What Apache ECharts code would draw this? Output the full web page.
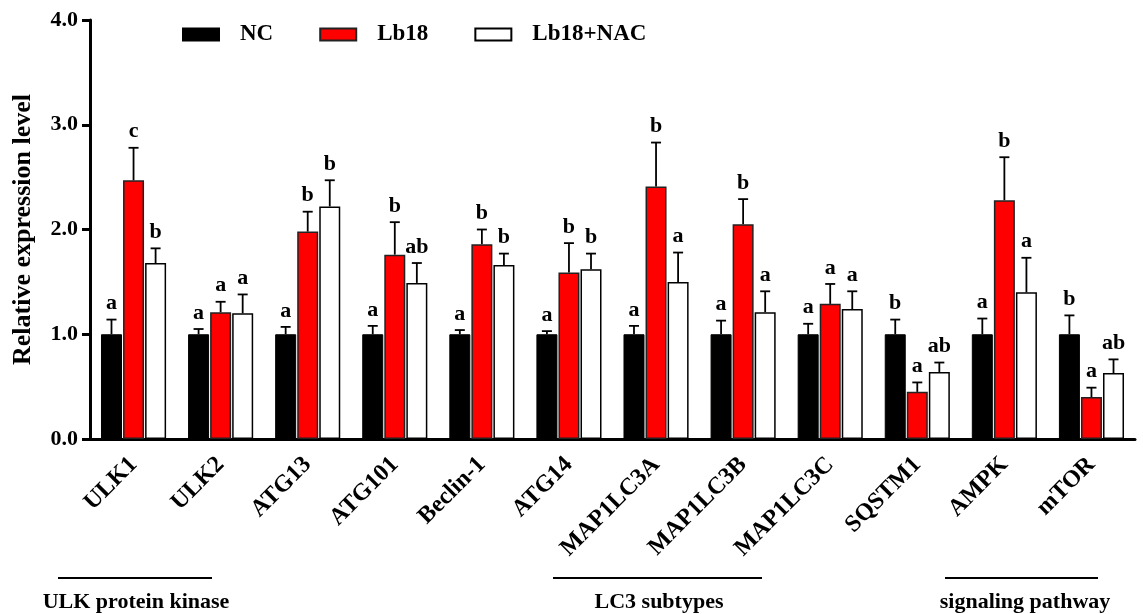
<!DOCTYPE html>
<html>
<head>
<meta charset="utf-8">
<script src="https://cdn.jsdelivr.net/npm/echarts@6/dist/echarts.min.js"></script>
<style>
html,body{margin:0;padding:0;background:#fff;}
#chart{width:1143px;height:614px;}
</style>
</head>
<body>
<div id="chart"></div>
<script>
const categories = ['ULK1','ULK2','ATG13','ATG101','Beclin-1','ATG14','MAP1LC3A','MAP1LC3B','MAP1LC3C','SQSTM1','AMPK','mTOR'];
const ncValues   = [1.00,1.00,1.00,1.00,1.00,1.00,1.00,1.00,1.00,1.00,1.00,1.00];
const ncErr      = [0.14,0.05,0.07,0.08,0.04,0.03,0.08,0.13,0.10,0.14,0.15,0.18];
const ncLetters  = ['a','a','a','a','a','a','a','a','a','b','a','b'];
const lb18Values = [2.47,1.21,1.98,1.76,1.86,1.59,2.41,2.05,1.29,0.45,2.28,0.40];
const lb18Err    = [0.31,0.10,0.19,0.31,0.14,0.28,0.42,0.24,0.19,0.09,0.41,0.09];
const lb18Letters= ['c','a','b','b','b','b','b','b','a','a','b','a'];
const nacValues  = [1.68,1.20,2.22,1.49,1.66,1.62,1.50,1.21,1.24,0.64,1.40,0.63];
const nacErr     = [0.14,0.18,0.25,0.19,0.11,0.15,0.28,0.20,0.17,0.09,0.33,0.13];
const nacLetters = ['b','a','b','ab','b','b','a','a','a','ab','a','ab'];
const seriesNames = ['NC','Lb18','Lb18+NAC'];
const yTicks = [0,1,2,3,4];
const groupLabels = ['ULK protein kinase','LC3 subtypes','signaling pathway'];

const FONT = '"Liberation Serif", "Times New Roman", serif';
const BAR_W = 21;
const GAP = 1.05;
const offsets = [-(BAR_W + GAP), 0, (BAR_W + GAP)];

function errSeries(name, vals, errs, letters, offset) {
  return {
    type: 'custom',
    name: name,
    data: vals.map((v, i) => [i, v, errs[i]]),
    encode: { x: 0, y: 1 },
    z: 10,
    silent: true,
    renderItem: function (params, api) {
      const i = api.value(0), v = api.value(1), e = api.value(2);
      const base = api.coord([i, v]);
      const top = api.coord([i, v + e]);
      const x = base[0] + offset;
      return {
        type: 'group',
        children: [
          { type: 'line', shape: { x1: x, y1: base[1], x2: x, y2: top[1] }, style: { stroke: '#000', lineWidth: 1.8 } },
          { type: 'line', shape: { x1: x - 5, y1: top[1], x2: x + 5, y2: top[1] }, style: { stroke: '#000', lineWidth: 1.8 } },
          { type: 'text', x: x, y: top[1] - 5,
            style: { text: letters[params.dataIndex], textAlign: 'center', textVerticalAlign: 'bottom',
                     font: 'bold 22px ' + FONT, fill: '#000' } }
        ]
      };
    }
  };
}

const chart = echarts.init(document.getElementById('chart'), null, { renderer: 'canvas' });
const option = {
  backgroundColor: '#fff',
  animation: false,
  grid: { left: 90, right: 8, top: 20, bottom: 175, containLabel: false },
  legend: {
    data: seriesNames,
    left: 182, top: 23, padding: 0,
    itemWidth: 36, itemHeight: 12, itemGap: 46,
    icon: 'rect',
    formatter: '{t|{name}}',
    textStyle: {
      rich: { t: { fontFamily: FONT, fontWeight: 'bold', fontSize: 23, color: '#000', padding: [0, 0, 0, 16] } }
    }
  },
  xAxis: {
    type: 'category',
    data: categories,
    axisLine: { lineStyle: { color: '#000', width: 3 } },
    axisTick: { alignWithLabel: true, length: 8, lineStyle: { color: '#000', width: 3 } },
    axisLabel: { interval: 0, rotate: 45, margin: 22, fontFamily: FONT, fontWeight: 'bold', fontSize: 24, color: '#000' }
  },
  yAxis: {
    type: 'value',
    min: yTicks[0], max: yTicks[yTicks.length - 1], interval: 1,
    name: 'Relative expression level',
    nameLocation: 'middle',
    nameGap: 54,
    nameTextStyle: { fontFamily: FONT, fontWeight: 'bold', fontSize: 26, color: '#000' },
    axisLine: { show: true, lineStyle: { color: '#000', width: 3 } },
    axisTick: { show: true, length: 8, lineStyle: { color: '#000', width: 3 } },
    splitLine: { show: false },
    axisLabel: { margin: 12, fontFamily: FONT, fontWeight: 'bold', fontSize: 22, color: '#000',
                 formatter: v => v.toFixed(1) }
  },
  series: [
    { type: 'bar', name: seriesNames[0], data: ncValues, barWidth: BAR_W, barGap: '5%',
      itemStyle: { color: '#000', borderColor: '#000', borderWidth: 1 } },
    { type: 'bar', name: seriesNames[1], data: lb18Values, barWidth: BAR_W, barGap: '5%',
      itemStyle: { color: '#ff0000', borderColor: '#222', borderWidth: 1.5 } },
    { type: 'bar', name: seriesNames[2], data: nacValues, barWidth: BAR_W, barGap: '5%',
      itemStyle: { color: '#fff', borderColor: '#000', borderWidth: 1.5 } },
    errSeries('errNC', ncValues, ncErr, ncLetters, offsets[0]),
    errSeries('errLb18', lb18Values, lb18Err, lb18Letters, offsets[1]),
    errSeries('errNAC', nacValues, nacErr, nacLetters, offsets[2])
  ],
  graphic: [
    { type: 'line', shape: { x1: 58, y1: 578, x2: 212, y2: 578 }, style: { stroke: '#000', lineWidth: 2 } },
    { type: 'line', shape: { x1: 553, y1: 578, x2: 762, y2: 578 }, style: { stroke: '#000', lineWidth: 2 } },
    { type: 'line', shape: { x1: 945, y1: 578, x2: 1098, y2: 578 }, style: { stroke: '#000', lineWidth: 2 } },
    { type: 'text', x: 136, y: 602, style: { text: groupLabels[0], textAlign: 'center', textVerticalAlign: 'middle', font: 'bold 22px ' + FONT, fill: '#000' } },
    { type: 'text', x: 659, y: 602, style: { text: groupLabels[1], textAlign: 'center', textVerticalAlign: 'middle', font: 'bold 22px ' + FONT, fill: '#000' } },
    { type: 'text', x: 1025, y: 602, style: { text: groupLabels[2], textAlign: 'center', textVerticalAlign: 'middle', font: 'bold 22px ' + FONT, fill: '#000' } }
  ]
};
chart.setOption(option);
</script>
</body>
</html>
